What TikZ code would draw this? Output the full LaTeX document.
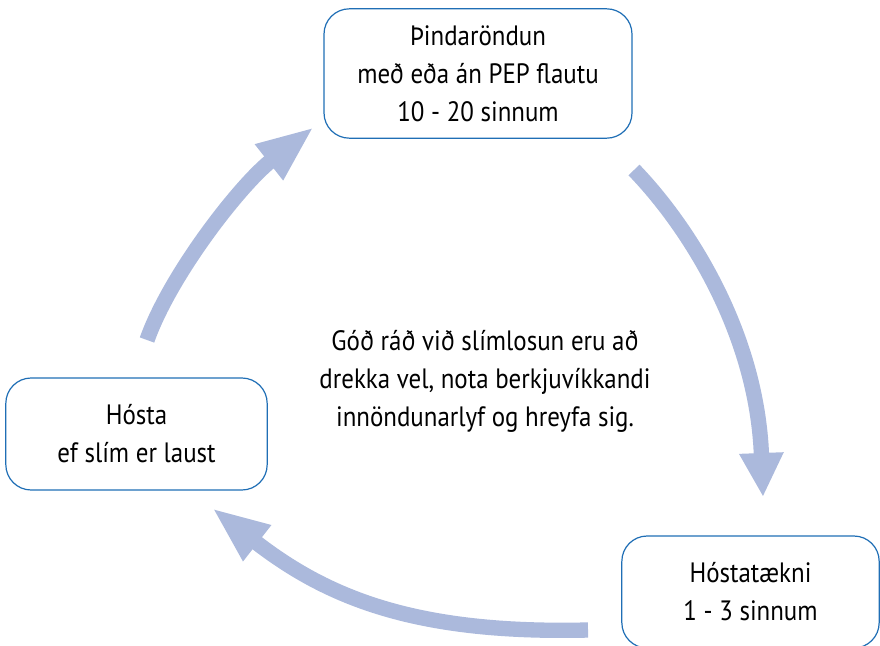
\documentclass[tikz,border=0pt]{standalone}
\usepackage{fontspec}
\setmainfont{PT Sans}[FakeStretch=0.89]
\usetikzlibrary{arrows.meta}

\definecolor{boxblue}{RGB}{31,110,181}
\definecolor{arrowblue}{RGB}{171,185,220}

\begin{document}
\begin{tikzpicture}[x=0.75pt,y=-0.75pt,
  stepbox/.style={draw=boxblue, line width=0.9pt, rounded corners=19pt,
    align=center, font=\fontsize{21}{28.5}\selectfont},
  cyclearrow/.style={draw=arrowblue, line width=11.5pt}]

\useasboundingbox (0,0) rectangle (880,645);

% Boxes of the cycle
\node[stepbox, minimum width=231pt, minimum height=97pt] (thind) at (478,73.5)
  {Þindaröndun\\með eða án PEP flautu\\10 - 20 sinnum};
\node[stepbox, minimum width=193pt, minimum height=84pt] (tekni) at (750.5,592)
  {Hóstatækni\\1 - 3 sinnum};
\node[stepbox, minimum width=196pt, minimum height=84pt] (hosta) at (136.5,434)
  {Hósta\\ef slím er laust};

% Advice in the middle
\node[align=center, font=\fontsize{21}{28.5}\selectfont] (rad) at (485,381)
  {Góð ráð við slímlosun eru að\\drekka vel, nota berkjuvíkkandi\\innöndunarlyf og hreyfa sig.};

% Arrow ends
\coordinate (T1) at (147,340);
\coordinate (H1) at (314,127);
\coordinate (T2) at (634,170);
\coordinate (H2) at (763,497);
\coordinate (T3) at (588,630);
\coordinate (H3) at (212,508);

% Arrows
\draw[cyclearrow, -{Triangle[length=43pt,width=31pt]}]
  (T1) .. controls (170,275) and (240,185) .. (H1);
\draw[cyclearrow, -{Triangle[length=33pt,width=31pt]}]
  (T2) .. controls (690,228) and (757,335) .. (H2);
\draw[cyclearrow, -{Triangle[length=43pt,width=31pt]}]
  (T3) .. controls (420,634) and (330,600) .. (H3);

\end{tikzpicture}
\end{document}
